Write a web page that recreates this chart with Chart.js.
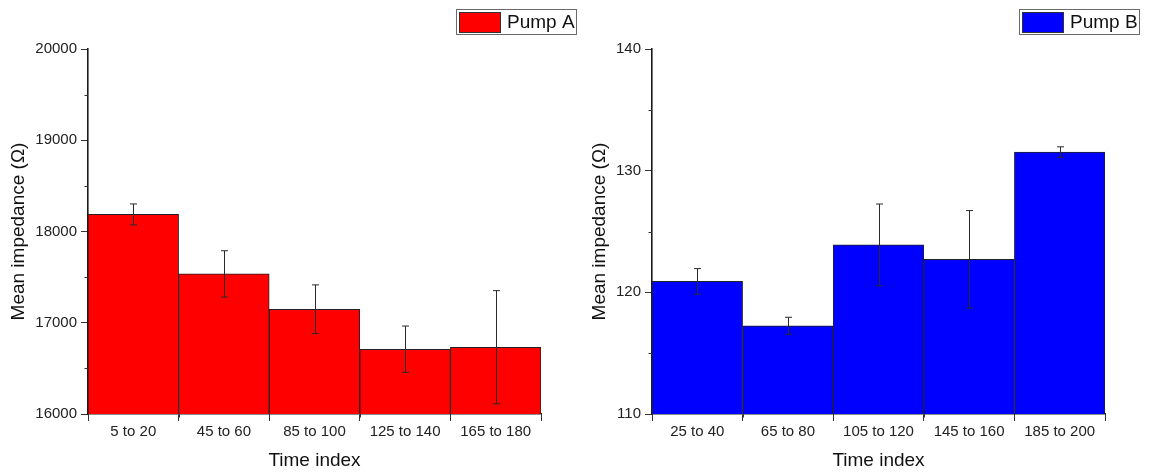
<!DOCTYPE html>
<html><head><meta charset="utf-8">
<script src="https://cdn.jsdelivr.net/npm/chart.js@4.4.0/dist/chart.umd.min.js"></script>
<style>
html,body{margin:0;padding:0;background:#fff;overflow:hidden;}
#wrap{position:relative;width:1149px;height:472px;}
.box{position:absolute;top:0;}
canvas{display:block;}
</style></head><body>
<div id="wrap">
  <div class="box" style="left:0;width:580px;height:472px"><canvas id="cA" width="580" height="472"></canvas></div>
  <div class="box" style="left:580px;width:569px;height:472px"><canvas id="cB" width="569" height="472"></canvas></div>
</div>
<script>
// ---- data ----
const categoriesA = ['5 to 20', '45 to 60', '85 to 100', '125 to 140', '165 to 180'];
const valuesA = [18187, 17535, 17148, 16710, 16732];
const errorsA = [115, 254, 267, 254, 620];
const yTicksA = [16000, 17000, 18000, 19000, 20000];

const categoriesB = ['25 to 40', '65 to 80', '105 to 120', '145 to 160', '185 to 200'];
const valuesB = [120.9, 117.25, 123.9, 122.72, 131.53];
const errorsB = [1.05, 0.7, 3.36, 4.0, 0.43];
const yTicksB = [110, 120, 130, 140];

const seriesNameA = 'Pump A';
const seriesNameB = 'Pump B';
const xTitle = 'Time index';
const yTitle = 'Mean impedance (\u03A9)';

// ---- drawing ----
const FONT = '"Liberation Sans", Arial, sans-serif';

const extrasPlugin = {
  id: 'extras',
  afterDatasetsDraw(chart, args, o) {
    const ctx = chart.ctx;
    const x = chart.scales.x, y = chart.scales.y;
    const ds = chart.data.datasets[0];
    ctx.save();
    // error bars
    ctx.strokeStyle = '#2a2a2a';
    ctx.lineWidth = 1;
    ds.data.forEach((v, i) => {
      const e = o.errors[i];
      const px = Math.round(x.getPixelForValue(i)) + 0.5;
      const yt = y.getPixelForValue(v + e);
      const yb = y.getPixelForValue(v - e);
      ctx.beginPath();
      ctx.moveTo(px, yt); ctx.lineTo(px, yb);
      ctx.moveTo(px - 3.5, yt); ctx.lineTo(px + 3.5, yt);
      ctx.moveTo(px - 3.5, yb); ctx.lineTo(px + 3.5, yb);
      ctx.stroke();
    });
    // minor ticks
    ctx.strokeStyle = '#333';
    const ticks = o.yTicks;
    for (let i = 0; i < ticks.length - 1; i++) {
      const py = Math.round(y.getPixelForValue((ticks[i] + ticks[i + 1]) / 2)) + 0.5;
      ctx.beginPath(); ctx.moveTo(y.right - 3.5, py); ctx.lineTo(y.right, py); ctx.stroke();
    }
    for (let i = 0; i <= ds.data.length; i++) {
      const px = Math.round(x.getPixelForValue(i - 0.5)) + 0.5;
      ctx.beginPath(); ctx.moveTo(px, x.top); ctx.lineTo(px, x.top + 3.5); ctx.stroke();
    }
    ctx.restore();
  },
  afterDraw(chart, args, o) {
    const ctx = chart.ctx;
    const ds = chart.data.datasets[0];
    ctx.save();
    ctx.font = '19px ' + FONT;
    const tw = ctx.measureText(ds.label).width;
    const w = Math.round(3 + 42 + 6 + tw + 2);
    const h = 26;
    const bx = Math.round(o.legendRight - w), by = 9;
    ctx.fillStyle = '#fff';
    ctx.fillRect(bx, by, w, h);
    ctx.strokeStyle = '#6a6a6a'; ctx.lineWidth = 1;
    ctx.strokeRect(bx + 0.5, by + 0.5, w - 1, h - 1);
    ctx.fillStyle = ds.backgroundColor;
    ctx.fillRect(bx + 3.5, by + 3.5, 41, 20);
    ctx.strokeStyle = '#333';
    ctx.strokeRect(bx + 3.5, by + 3.5, 41, 20);
    ctx.fillStyle = '#111';
    ctx.textBaseline = 'middle';
    ctx.textAlign = 'left';
    ctx.fillText(ds.label, bx + 51, by + h / 2 + 1);
    ctx.restore();
  }
};

function makeChart(id, cats, vals, errs, yTicks, label, color, cfg) {
  return new Chart(document.getElementById(id), {
    type: 'bar',
    data: {
      labels: cats,
      datasets: [{
        label: label,
        data: vals,
        backgroundColor: color,
        borderColor: '#222',
        borderWidth: 1,
        borderSkipped: 'start',
        barPercentage: 1,
        categoryPercentage: 1
      }]
    },
    options: {
      responsive: false,
      animation: false,
      devicePixelRatio: 1,
      layout: { padding: { left: 0, right: cfg.padRight, top: 49, bottom: 0 } },
      plugins: {
        legend: { display: false },
        tooltip: { enabled: false },
        extras: { errors: errs, yTicks: yTicks, legendRight: cfg.legendRight }
      },
      scales: {
        x: {
          grid: { display: true, drawOnChartArea: false, drawTicks: true, tickLength: 7, tickColor: '#333', tickWidth: 1 },
          border: { display: true, color: '#1a1a1a', width: 1.6 },
          ticks: { font: { family: FONT, size: 15 }, color: '#222', padding: 2, maxRotation: 0, autoSkip: false },
          title: { display: true, text: xTitle, font: { family: FONT, size: 19 }, color: '#111', padding: { top: 0, bottom: 0 } },
          afterFit: s => { s.height = 58; }
        },
        y: {
          min: yTicks[0],
          max: yTicks[yTicks.length - 1],
          afterBuildTicks: s => { s.ticks = yTicks.map(v => ({ value: v })); },
          grid: { display: true, drawOnChartArea: false, drawTicks: true, tickLength: 7, tickColor: '#333', tickWidth: 1 },
          border: { display: true, color: '#1a1a1a', width: 1.6 },
          ticks: { font: { family: FONT, size: 15 }, color: '#222', padding: 4, callback: v => String(v) },
          title: { display: true, text: yTitle, font: { family: FONT, size: 19 }, color: '#111', padding: { top: cfg.titlePad, bottom: 0 } },
          afterFit: s => { s.width = cfg.yWidth; }
        }
      }
    },
    plugins: [extrasPlugin]
  });
}

makeChart('cA', categoriesA, valuesA, errorsA, yTicksA, seriesNameA, '#ff0000',
  { padRight: 39, yWidth: 88, titlePad: 7.6, legendRight: 577 });
makeChart('cB', categoriesB, valuesB, errorsB, yTicksB, seriesNameB, '#0000ff',
  { padRight: 44, yWidth: 72, titlePad: 8.6, legendRight: 560 });
</script>
</body></html>
